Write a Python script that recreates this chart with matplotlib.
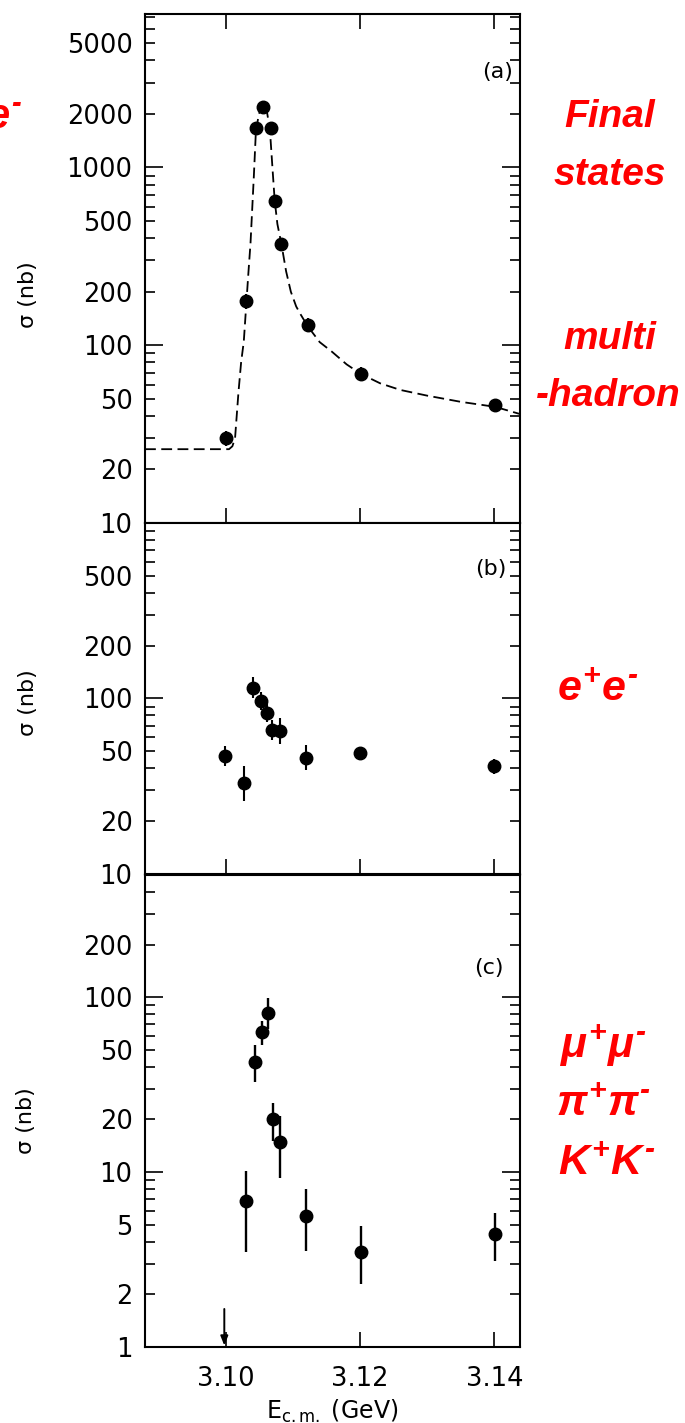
import numpy as np
import matplotlib
matplotlib.use("Agg")
import matplotlib.pyplot as plt
from matplotlib.ticker import LogLocator, FuncFormatter

plt.rcParams['font.family'] = ['DejaVu Sans']
plt.rcParams['mathtext.fontset'] = 'custom'
for key in ('rm', 'it', 'bf', 'sf'):
    plt.rcParams['mathtext.' + key] = 'Liberation Sans:italic:bold'

# (a) multi-hadron final states
a_E = [3.1001, 3.1030, 3.1045, 3.1055, 3.1067, 3.1073, 3.1083, 3.1122, 3.1201, 3.1401]
a_sig = [30, 177, 1660, 2200, 1660, 645, 370, 130, 69, 46]
a_err = [3, 18, 80, 100, 80, 40, 25, 12, 6, 4]

# dashed fit curve
fit_E = [3.0880, 3.1005, 3.1010, 3.1014, 3.1019, 3.1023, 3.1027, 3.1031, 3.1034,
         3.1037, 3.1042, 3.1045, 3.1049, 3.1052, 3.1055, 3.1058, 3.1062, 3.1066,
         3.1070, 3.1073, 3.1077, 3.1083, 3.1090, 3.1097, 3.1105, 3.1112, 3.1122,
         3.1140, 3.1158, 3.1180, 3.1201, 3.1230, 3.1260, 3.1300, 3.1350, 3.1401, 3.1438]
fit_sig = [26, 26, 27, 30, 54, 80, 105, 177, 260,
           375, 900, 1600, 1950, 2150, 2300, 2250, 2000, 1600,
           950, 650, 480, 370, 260, 200, 165, 148, 128,
           104, 92, 78, 69, 61, 56, 52, 48, 45, 41]

# (b) e+e-
b_E = [3.0999, 3.1028, 3.1040, 3.1052, 3.1061, 3.1069, 3.1081, 3.1120, 3.1200, 3.1400]
b_sig = [47, 33, 115, 97, 83, 66, 65, 46, 49, 41]
b_lo = [6, 7, 15, 11, 10, 8, 10, 7, 3, 4]
b_hi = [6.5, 8, 17, 12, 11, 9, 12, 8, 3.5, 4]

# (c) mu+mu-, pi+pi-, K+K-
c_E = [3.1030, 3.1043, 3.1054, 3.1063, 3.1070, 3.1081, 3.1120, 3.1201, 3.1401]
c_sig = [6.8, 42.6, 63, 81, 20, 14.9, 5.6, 3.5, 4.4]
c_lo = [3.3, 10, 10, 15, 5, 5.6, 2.05, 1.2, 1.3]
c_hi = [3.4, 11, 10, 18, 5, 6, 2.4, 1.4, 1.4]
c_limit_E = 3.0998
c_limit = 1.65

x_ticks = [3.10, 3.12, 3.14]
x_labels = ['3.10', '3.12', '3.14']

W, H = 685, 1423


def px(x, y):
    return x / W, 1 - y / H


fig = plt.figure(figsize=(W / 100, H / 100), dpi=100)
ax_a = fig.add_axes([0.2117, 0.6325, 0.5474, 0.3577])
ax_b = fig.add_axes([0.2117, 0.3858, 0.5474, 0.2467])
ax_c = fig.add_axes([0.2117, 0.0534, 0.5474, 0.3317])


def setup(ax, ylim, top_ticks=False):
    ax.set_yscale('log')
    ax.set_ylim(*ylim)
    ax.set_xlim(3.088, 3.1438)
    top = ylim[1]

    def fmt(v, pos):
        lead = v / 10 ** np.floor(np.log10(v) + 1e-9)
        if round(lead) in (1, 2, 5) and v < top * 0.999:
            return '%g' % v
        return ''

    ax.yaxis.set_major_locator(LogLocator(base=10, numticks=12))
    ax.yaxis.set_minor_locator(LogLocator(base=10, subs=np.arange(2, 10), numticks=40))
    ax.yaxis.set_major_formatter(FuncFormatter(fmt))
    ax.yaxis.set_minor_formatter(FuncFormatter(fmt))
    ax.tick_params(axis='y', which='both', direction='in', left=True, right=True,
                   labelsize=18.5, pad=9, width=1.2)
    ax.tick_params(axis='y', which='major', length=13)
    ax.tick_params(axis='y', which='minor', length=7)
    ax.set_xticks(x_ticks)
    ax.set_xticklabels(x_labels)
    ax.tick_params(axis='x', direction='in', length=11, width=1.2, top=top_ticks,
                   labelbottom=False, labelsize=18.5, pad=14)
    for s in ax.spines.values():
        s.set_linewidth(1.5)
    ax.set_ylabel('σ (nb)', fontsize=16)


setup(ax_a, (10, 7300), top_ticks=True)
setup(ax_b, (10, 1000))
setup(ax_c, (1, 500))
ax_c.tick_params(axis='x', labelbottom=True)
ax_c.set_xlabel(r'$\mathregular{E_{c.m.}}$ (GeV)', fontsize=17, labelpad=4)

ax_a.yaxis.set_label_coords(-0.285, 0.448)
ax_b.yaxis.set_label_coords(-0.285, 0.487)
ax_c.yaxis.set_label_coords(-0.29, 0.479)

ax_a.plot(fit_E, fit_sig, color='k', lw=1.3, dashes=(6, 3))
ax_a.errorbar(a_E, a_sig, yerr=a_err, fmt='o', color='k', ms=9, elinewidth=1.5, capsize=0)
ax_b.errorbar(b_E, b_sig, yerr=[b_lo, b_hi], fmt='o', color='k', ms=9, elinewidth=1.5, capsize=0)
ax_c.errorbar(c_E, c_sig, yerr=[c_lo, c_hi], fmt='o', color='k', ms=9, elinewidth=1.7, capsize=0)
ax_c.annotate('', xy=(c_limit_E, 1.02), xytext=(c_limit_E, c_limit),
              arrowprops=dict(arrowstyle='-|>,head_width=0.22,head_length=0.55',
                              color='k', lw=1.4, shrinkA=0, shrinkB=0))

ax_a.text(0.939, 0.886, '(a)', transform=ax_a.transAxes, ha='center', va='center', fontsize=16)
ax_b.text(0.923, 0.869, '(b)', transform=ax_b.transAxes, ha='center', va='center', fontsize=16)
ax_c.text(0.917, 0.803, '(c)', transform=ax_c.transAxes, ha='center', va='center', fontsize=16)

red = '#ff0000'
rk = dict(color=red, ha='center', va='center', fontsize=28,
          family='Liberation Sans', weight='bold', style='italic')
fig.text(*px(610, 117), 'Final', **rk)
fig.text(*px(610, 175), 'states', **rk)
fig.text(*px(610, 339), 'multi', **rk)
fig.text(*px(608, 396), '-hadron', **rk)
rk['fontsize'] = 31
fig.text(*px(598, 690), r'$e^{+}e^{\text{-}}$', **rk)
fig.text(*px(603, 1046), r'$μ^{+}μ^{\text{-}}$', **rk)
fig.text(*px(603, 1105), r'$π^{+}π^{\text{-}}$', **rk)
fig.text(*px(607, 1164), r'$K^{+}K^{\text{-}}$', **rk)
fig.text(*px(22, 117), r'$e^{\text{-}}$', color=red, ha='right', va='center', fontsize=30)

fig.savefig('out.png', dpi=100)
